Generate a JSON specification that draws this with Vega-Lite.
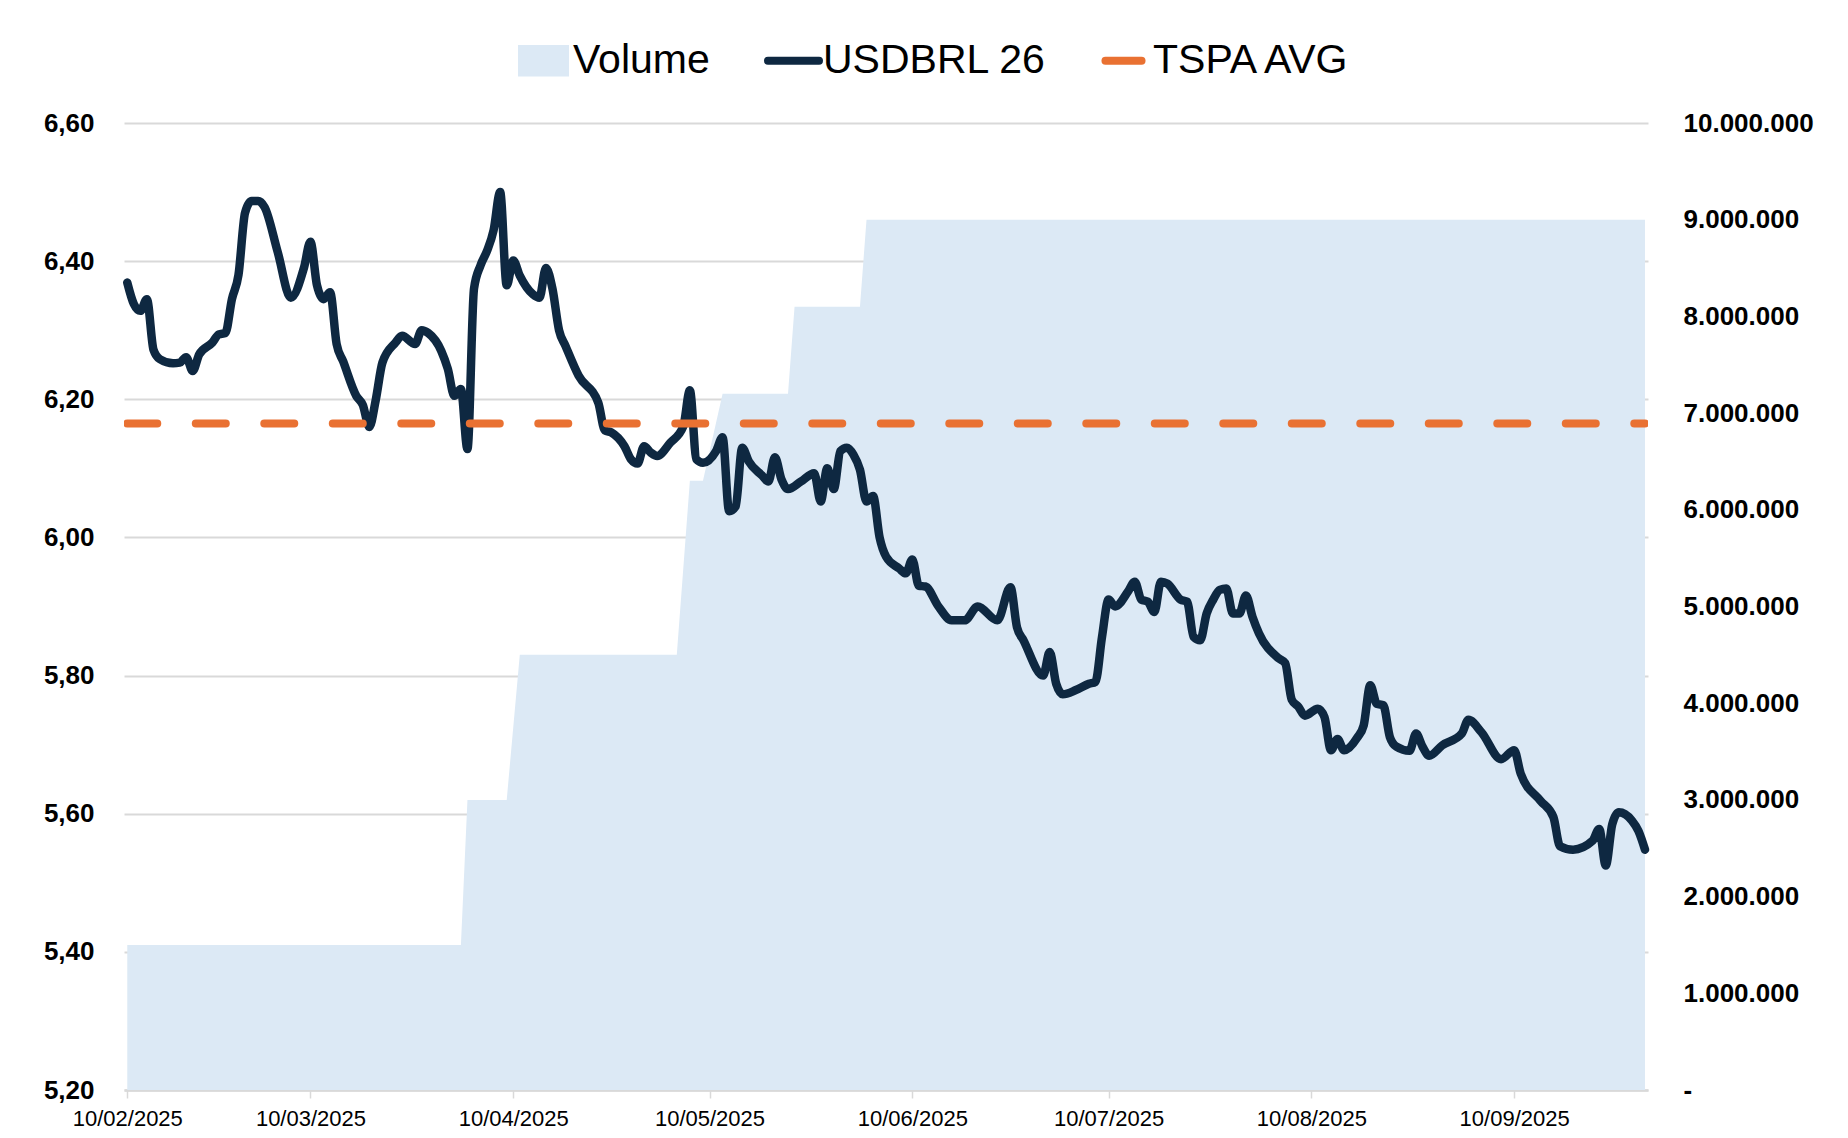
{
  "$schema": "https://vega.github.io/schema/vega-lite/v6.json",
  "width": 1524,
  "height": 967,
  "autosize": {"type": "none"},
  "padding": {"left": 124, "top": 123, "right": 200, "bottom": 48},
  "background": "white",
  "config": {
    "locale": {"number": {"decimal": ",", "thousands": ".", "grouping": [3], "currency": ["R$", ""]}},
    "view": {"stroke": null},
    "font": "Liberation Sans",
    "axis": {"labelFont": "Liberation Sans", "labelColor": "#000000", "title": null},
    "legend": {
      "orient": "none", "legendX": 399, "legendY": -83,
      "direction": "horizontal",
      "labelFontSize": 41, "labelFont": "Liberation Sans", "labelColor": "#000000", "labelLimit": 600,
      "symbolSize": 2601, "labelOffset": 9, "columnPadding": 42,
      "symbolStrokeWidth": 8
    }
  },
  "layer": [
    {
      "data": {
        "format": {"parse": {"d": "date:'%Y-%m-%d'"}},
        "values": [
          {"d": "2025-02-10", "vol": 1500000},
          {"d": "2025-04-02", "vol": 1500000},
          {"d": "2025-04-03", "vol": 3000000},
          {"d": "2025-04-09", "vol": 3000000},
          {"d": "2025-04-11", "vol": 4500000},
          {"d": "2025-05-05", "vol": 4500000},
          {"d": "2025-05-07", "vol": 6300000},
          {"d": "2025-05-09", "vol": 6300000},
          {"d": "2025-05-12", "vol": 7200000},
          {"d": "2025-05-22", "vol": 7200000},
          {"d": "2025-05-23", "vol": 8100000},
          {"d": "2025-06-02", "vol": 8100000},
          {"d": "2025-06-03", "vol": 9000000},
          {"d": "2025-09-30", "vol": 9000000}
        ]
      },
      "mark": {"type": "area", "interpolate": "linear", "opacity": 1},
      "encoding": {
        "x": {
          "field": "d", "type": "temporal",
          "scale": {"domain": [{"year": 2025, "month": 2, "date": 9, "hours": 12}, {"year": 2025, "month": 9, "date": 30, "hours": 11}]},
          "axis": {
            "values": [
              {"year": 2025, "month": 2, "date": 10}, {"year": 2025, "month": 3, "date": 10},
              {"year": 2025, "month": 4, "date": 10}, {"year": 2025, "month": 5, "date": 10},
              {"year": 2025, "month": 6, "date": 10}, {"year": 2025, "month": 7, "date": 10},
              {"year": 2025, "month": 8, "date": 10}, {"year": 2025, "month": 9, "date": 10}
            ],
            "format": "%d/%m/%Y",
            "grid": false,
            "domain": true, "domainColor": "#D9D9D9", "domainWidth": 2.5,
            "ticks": true, "tickColor": "#D9D9D9", "tickSize": 8, "tickWidth": 1.5,
            "labelFontSize": 22, "labelPadding": 10, "labelColor": "#000000",
            "labelOverlap": false, "labelFlush": false
          }
        },
        "y": {
          "field": "vol", "type": "quantitative",
          "scale": {"domain": [0, 10000000], "nice": false, "zero": true},
          "axis": {
            "orient": "right",
            "values": [0, 1000000, 2000000, 3000000, 4000000, 5000000, 6000000, 7000000, 8000000, 9000000, 10000000],
            "format": ",.0f",
            "labelExpr": "datum.value == 0 ? '-' : datum.label",
            "grid": false, "domain": false, "ticks": false,
            "labelPadding": 35, "labelFontSize": 26, "labelFontWeight": "bold", "labelAlign": "left"
          }
        },
        "color": {
          "datum": "Volume", "type": "nominal",
          "scale": {"domain": ["Volume", "USDBRL 26", "TSPA AVG"], "range": ["#DCE9F5", "#0E2841", "#E97132"]},
          "legend": {
            "title": null,
            "encode": {
              "symbols": {
                "update": {
                  "shape": {"signal": "datum.value === 'Volume' ? 'M-1,-0.62H1V0.62H-1Z' : 'stroke'"},
                  "fill": {"signal": "datum.value === 'Volume' ? '#DCE9F5' : 'transparent'"},
                  "stroke": {"signal": "datum.value === 'Volume' ? 'transparent' : (datum.value === 'TSPA AVG' ? '#E97132' : '#0E2841')"},
                  "strokeWidth": {"signal": "datum.value === 'Volume' ? 0 : 8"},
                  "strokeCap": {"value": "round"},
                  "size": {"signal": "datum.value === 'Volume' ? 2601 : (datum.value === 'TSPA AVG' ? 1300 : 2601)"},
                  "opacity": {"value": 1},
                  "fillOpacity": {"value": 1},
                  "strokeOpacity": {"value": 1}
                }
              }
            }
          }
        }
      }
    },
    {
      "data": {
        "format": {"parse": {"d": "date:'%Y-%m-%d'"}},
        "values": [
          {"d": "2025-02-10", "v": 6.369}, {"d": "2025-02-11", "v": 6.338}, {"d": "2025-02-12", "v": 6.328},
          {"d": "2025-02-13", "v": 6.345}, {"d": "2025-02-14", "v": 6.272}, {"d": "2025-02-15", "v": 6.258},
          {"d": "2025-02-17", "v": 6.252}, {"d": "2025-02-18", "v": 6.253}, {"d": "2025-02-19", "v": 6.261},
          {"d": "2025-02-20", "v": 6.241}, {"d": "2025-02-21", "v": 6.265}, {"d": "2025-02-23", "v": 6.282},
          {"d": "2025-02-24", "v": 6.294}, {"d": "2025-02-25", "v": 6.296}, {"d": "2025-02-26", "v": 6.345},
          {"d": "2025-02-27", "v": 6.38}, {"d": "2025-02-28", "v": 6.47}, {"d": "2025-03-01", "v": 6.487},
          {"d": "2025-03-02", "v": 6.487}, {"d": "2025-03-03", "v": 6.478}, {"d": "2025-03-05", "v": 6.413},
          {"d": "2025-03-07", "v": 6.347}, {"d": "2025-03-09", "v": 6.39}, {"d": "2025-03-10", "v": 6.428},
          {"d": "2025-03-11", "v": 6.365}, {"d": "2025-03-12", "v": 6.345}, {"d": "2025-03-13", "v": 6.355},
          {"d": "2025-03-14", "v": 6.28}, {"d": "2025-03-15", "v": 6.255}, {"d": "2025-03-17", "v": 6.205},
          {"d": "2025-03-18", "v": 6.192}, {"d": "2025-03-19", "v": 6.16}, {"d": "2025-03-20", "v": 6.2},
          {"d": "2025-03-21", "v": 6.253}, {"d": "2025-03-23", "v": 6.282}, {"d": "2025-03-24", "v": 6.292},
          {"d": "2025-03-26", "v": 6.28}, {"d": "2025-03-27", "v": 6.3}, {"d": "2025-03-28", "v": 6.296},
          {"d": "2025-03-30", "v": 6.27}, {"d": "2025-03-31", "v": 6.244}, {"d": "2025-04-01", "v": 6.205},
          {"d": "2025-04-02", "v": 6.215}, {"d": "2025-04-03", "v": 6.128}, {"d": "2025-04-04", "v": 6.36},
          {"d": "2025-04-05", "v": 6.394}, {"d": "2025-04-06", "v": 6.415}, {"d": "2025-04-07", "v": 6.445},
          {"d": "2025-04-08", "v": 6.5}, {"d": "2025-04-09", "v": 6.365}, {"d": "2025-04-10", "v": 6.401},
          {"d": "2025-04-11", "v": 6.379}, {"d": "2025-04-13", "v": 6.352}, {"d": "2025-04-14", "v": 6.347},
          {"d": "2025-04-15", "v": 6.39}, {"d": "2025-04-16", "v": 6.36}, {"d": "2025-04-17", "v": 6.3},
          {"d": "2025-04-18", "v": 6.277}, {"d": "2025-04-20", "v": 6.234}, {"d": "2025-04-23", "v": 6.195},
          {"d": "2025-04-24", "v": 6.155}, {"d": "2025-04-25", "v": 6.152}, {"d": "2025-04-27", "v": 6.132},
          {"d": "2025-04-28", "v": 6.113}, {"d": "2025-04-29", "v": 6.107}, {"d": "2025-04-30", "v": 6.132},
          {"d": "2025-05-01", "v": 6.123}, {"d": "2025-05-02", "v": 6.118}, {"d": "2025-05-04", "v": 6.137},
          {"d": "2025-05-06", "v": 6.161}, {"d": "2025-05-07", "v": 6.213}, {"d": "2025-05-08", "v": 6.113},
          {"d": "2025-05-09", "v": 6.108}, {"d": "2025-05-11", "v": 6.125}, {"d": "2025-05-12", "v": 6.145},
          {"d": "2025-05-13", "v": 6.038}, {"d": "2025-05-14", "v": 6.045}, {"d": "2025-05-15", "v": 6.13},
          {"d": "2025-05-16", "v": 6.11}, {"d": "2025-05-18", "v": 6.09}, {"d": "2025-05-19", "v": 6.081},
          {"d": "2025-05-20", "v": 6.116}, {"d": "2025-05-21", "v": 6.084}, {"d": "2025-05-22", "v": 6.07},
          {"d": "2025-05-24", "v": 6.081}, {"d": "2025-05-26", "v": 6.093}, {"d": "2025-05-27", "v": 6.052},
          {"d": "2025-05-28", "v": 6.1}, {"d": "2025-05-29", "v": 6.07}, {"d": "2025-05-30", "v": 6.125},
          {"d": "2025-05-31", "v": 6.13}, {"d": "2025-06-01", "v": 6.12}, {"d": "2025-06-02", "v": 6.098},
          {"d": "2025-06-03", "v": 6.052}, {"d": "2025-06-04", "v": 6.06}, {"d": "2025-06-05", "v": 6.0},
          {"d": "2025-06-06", "v": 5.972}, {"d": "2025-06-08", "v": 5.955}, {"d": "2025-06-09", "v": 5.948},
          {"d": "2025-06-10", "v": 5.968}, {"d": "2025-06-11", "v": 5.93}, {"d": "2025-06-12", "v": 5.929},
          {"d": "2025-06-14", "v": 5.9}, {"d": "2025-06-16", "v": 5.88}, {"d": "2025-06-18", "v": 5.88},
          {"d": "2025-06-20", "v": 5.9}, {"d": "2025-06-23", "v": 5.88}, {"d": "2025-06-25", "v": 5.928},
          {"d": "2025-06-26", "v": 5.87}, {"d": "2025-06-27", "v": 5.851}, {"d": "2025-06-30", "v": 5.8},
          {"d": "2025-07-01", "v": 5.834}, {"d": "2025-07-02", "v": 5.788}, {"d": "2025-07-03", "v": 5.773},
          {"d": "2025-07-05", "v": 5.779}, {"d": "2025-07-07", "v": 5.788}, {"d": "2025-07-08", "v": 5.791},
          {"d": "2025-07-09", "v": 5.856}, {"d": "2025-07-10", "v": 5.91}, {"d": "2025-07-11", "v": 5.9},
          {"d": "2025-07-13", "v": 5.922}, {"d": "2025-07-14", "v": 5.936}, {"d": "2025-07-15", "v": 5.91},
          {"d": "2025-07-16", "v": 5.907}, {"d": "2025-07-17", "v": 5.892}, {"d": "2025-07-18", "v": 5.936},
          {"d": "2025-07-19", "v": 5.933}, {"d": "2025-07-21", "v": 5.91}, {"d": "2025-07-22", "v": 5.907},
          {"d": "2025-07-23", "v": 5.856}, {"d": "2025-07-24", "v": 5.851}, {"d": "2025-07-25", "v": 5.89},
          {"d": "2025-07-26", "v": 5.91}, {"d": "2025-07-27", "v": 5.924}, {"d": "2025-07-28", "v": 5.926},
          {"d": "2025-07-29", "v": 5.89}, {"d": "2025-07-30", "v": 5.89}, {"d": "2025-07-31", "v": 5.916},
          {"d": "2025-08-01", "v": 5.885}, {"d": "2025-08-02", "v": 5.861}, {"d": "2025-08-05", "v": 5.825},
          {"d": "2025-08-06", "v": 5.818}, {"d": "2025-08-07", "v": 5.765}, {"d": "2025-08-08", "v": 5.755},
          {"d": "2025-08-09", "v": 5.742}, {"d": "2025-08-11", "v": 5.752}, {"d": "2025-08-12", "v": 5.74},
          {"d": "2025-08-13", "v": 5.692}, {"d": "2025-08-14", "v": 5.708}, {"d": "2025-08-15", "v": 5.692},
          {"d": "2025-08-17", "v": 5.71}, {"d": "2025-08-18", "v": 5.728}, {"d": "2025-08-19", "v": 5.786},
          {"d": "2025-08-20", "v": 5.759}, {"d": "2025-08-21", "v": 5.757}, {"d": "2025-08-22", "v": 5.711},
          {"d": "2025-08-23", "v": 5.697}, {"d": "2025-08-25", "v": 5.691}, {"d": "2025-08-26", "v": 5.716},
          {"d": "2025-08-27", "v": 5.697}, {"d": "2025-08-28", "v": 5.684}, {"d": "2025-08-30", "v": 5.699},
          {"d": "2025-09-02", "v": 5.716}, {"d": "2025-09-03", "v": 5.736}, {"d": "2025-09-05", "v": 5.718},
          {"d": "2025-09-08", "v": 5.679}, {"d": "2025-09-10", "v": 5.692}, {"d": "2025-09-11", "v": 5.658},
          {"d": "2025-09-14", "v": 5.619}, {"d": "2025-09-16", "v": 5.595}, {"d": "2025-09-17", "v": 5.553},
          {"d": "2025-09-19", "v": 5.548}, {"d": "2025-09-22", "v": 5.561}, {"d": "2025-09-23", "v": 5.578},
          {"d": "2025-09-24", "v": 5.525}, {"d": "2025-09-25", "v": 5.585}, {"d": "2025-09-26", "v": 5.602},
          {"d": "2025-09-28", "v": 5.59}, {"d": "2025-09-29", "v": 5.575}, {"d": "2025-09-30", "v": 5.548}
        ]
      },
      "mark": {"type": "line", "strokeWidth": 8.5, "strokeCap": "round", "strokeJoin": "round", "interpolate": "monotone"},
      "encoding": {
        "x": {"field": "d", "type": "temporal"},
        "y": {
          "field": "v", "type": "quantitative",
          "scale": {"domain": [5.2, 6.6], "nice": false, "zero": false},
          "axis": {
            "orient": "left",
            "values": [5.2, 5.4, 5.6, 5.8, 6.0, 6.2, 6.4, 6.6],
            "format": ".2f",
            "grid": true, "gridColor": "#D9D9D9", "gridWidth": 2,
            "domain": false, "ticks": false,
            "labelPadding": 30, "labelFontSize": 26, "labelFontWeight": "bold"
          }
        },
        "color": {
          "datum": "USDBRL 26", "type": "nominal",
          "legend": {
            "title": null,
            "encode": {
              "symbols": {
                "update": {
                  "shape": {"signal": "datum.value === 'Volume' ? 'M-1,-0.62H1V0.62H-1Z' : 'stroke'"},
                  "fill": {"signal": "datum.value === 'Volume' ? '#DCE9F5' : 'transparent'"},
                  "stroke": {"signal": "datum.value === 'Volume' ? 'transparent' : (datum.value === 'TSPA AVG' ? '#E97132' : '#0E2841')"},
                  "strokeWidth": {"signal": "datum.value === 'Volume' ? 0 : 8"},
                  "strokeCap": {"value": "round"},
                  "size": {"signal": "datum.value === 'Volume' ? 2601 : (datum.value === 'TSPA AVG' ? 1300 : 2601)"},
                  "opacity": {"value": 1},
                  "fillOpacity": {"value": 1},
                  "strokeOpacity": {"value": 1}
                }
              }
            }
          }
        }
      }
    },
    {
      "data": {
        "format": {"parse": {"d": "date:'%Y-%m-%d'"}},
        "values": [
          {"d": "2025-02-10", "v": 6.165},
          {"d": "2025-09-30", "v": 6.165}
        ]
      },
      "mark": {"type": "line", "strokeWidth": 8, "strokeCap": "round", "strokeDash": [30, 38.5], "clip": true},
      "encoding": {
        "x": {"field": "d", "type": "temporal"},
        "y": {"field": "v", "type": "quantitative", "scale": {"domain": [5.2, 6.6], "nice": false, "zero": false}, "axis": null},
        "color": {
          "datum": "TSPA AVG", "type": "nominal",
          "legend": {
            "title": null,
            "encode": {
              "symbols": {
                "update": {
                  "shape": {"signal": "datum.value === 'Volume' ? 'M-1,-0.62H1V0.62H-1Z' : 'stroke'"},
                  "fill": {"signal": "datum.value === 'Volume' ? '#DCE9F5' : 'transparent'"},
                  "stroke": {"signal": "datum.value === 'Volume' ? 'transparent' : (datum.value === 'TSPA AVG' ? '#E97132' : '#0E2841')"},
                  "strokeWidth": {"signal": "datum.value === 'Volume' ? 0 : 8"},
                  "strokeCap": {"value": "round"},
                  "size": {"signal": "datum.value === 'Volume' ? 2601 : (datum.value === 'TSPA AVG' ? 1300 : 2601)"},
                  "opacity": {"value": 1},
                  "fillOpacity": {"value": 1},
                  "strokeOpacity": {"value": 1}
                }
              }
            }
          }
        }
      }
    }
  ],
  "resolve": {"scale": {"y": "independent"}}
}
